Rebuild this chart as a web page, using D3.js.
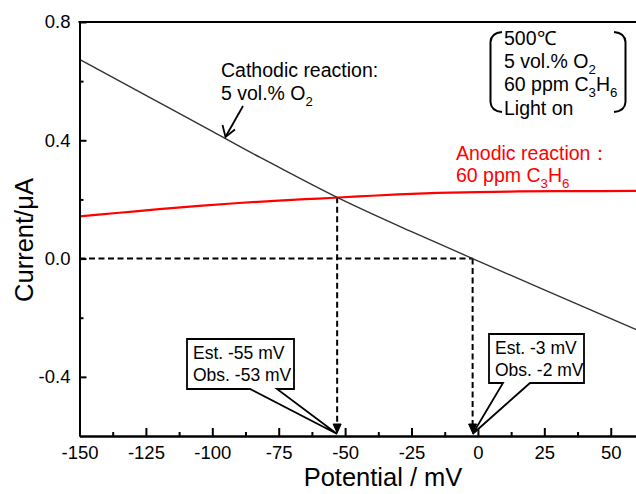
<!DOCTYPE html>
<html>
<head>
<meta charset="utf-8">
<script src="https://cdn.jsdelivr.net/npm/d3@7"></script>
<style>
  html, body { margin: 0; padding: 0; background: #fff; }
  svg { display: block; font-family: "Liberation Sans", Arial, sans-serif; }
</style>
</head>
<body>
<svg id="chart" width="636" height="494"></svg>
<script>
// Linear sweep: cathodic (O2 reduction) and anodic (C3H6 oxidation) currents
const cathodicPotential = [-150, -125, -100, -82, -75, -53, -25, -2, 25, 60];
const cathodicCurrent   = [0.674, 0.552, 0.430, 0.342, 0.309, 0.207, 0.091, 0.000, -0.106, -0.242];

const anodicPotential = [-150, -135, -120, -105, -90, -75, -60, -45, -30, -15, 0, 15, 30, 45, 60];
const anodicCurrent   = [0.143, 0.155, 0.167, 0.178, 0.188, 0.196, 0.203, 0.210, 0.217, 0.222, 0.225, 0.227, 0.228, 0.228, 0.229];

const xMajorTicks = [-150, -125, -100, -75, -50, -25, 0, 25, 50];
const xMinorTicks = [-137.5, -112.5, -87.5, -62.5, -37.5, -12.5, 12.5, 37.5];
const yMajorTicks = [-0.4, 0.0, 0.4, 0.8];
const yMinorTicks = [-0.2, 0.2, 0.6];

// Mixed potentials: estimated vs observed (mV)
const mixedPoints = [
  { est: -55, obs: -53, current: 0.207 },
  { est: -3,  obs: -2,  current: 0.0 }
];

const conditions = ["500℃", ["5 vol.% O", "2"], ["60 ppm C", "3", "H", "6"], "Light on"];

const svg = d3.select("#chart");
const plotLeft = 79.5, plotRight = 637.3, plotTop = 22, plotBottom = 436;

const x = d3.scaleLinear().domain([-150, 60]).range([plotLeft, plotRight]);
const y = d3.scaleLinear().domain([-0.6, 0.8]).range([plotBottom, plotTop]);

// Tick labels use a plain hyphen for negatives
const hyphen = f => d => f(d).replace("\u2212", "-");

svg.append("defs").append("clipPath").attr("id", "plotclip")
  .append("rect").attr("x", plotLeft).attr("y", plotTop)
  .attr("width", plotRight - plotLeft).attr("height", plotBottom - plotTop);

// Dashed guide lines (zero current, and verticals at mixed potentials)
const guides = svg.append("g").attr("stroke", "#000").attr("stroke-width", 2)
  .attr("stroke-dasharray", "6,3.5").attr("fill", "none");
guides.append("line")
  .attr("x1", x(-150)).attr("x2", x(mixedPoints[1].obs))
  .attr("y1", y(0)).attr("y2", y(0));
mixedPoints.forEach(p => {
  guides.append("line")
    .attr("x1", x(p.obs)).attr("x2", x(p.obs))
    .attr("y1", y(p.current)).attr("y2", plotBottom - 8);
});
// Arrowheads on the vertical guides
mixedPoints.forEach(p => {
  const tx = x(p.obs), ty = plotBottom - 3;
  svg.append("path")
    .attr("d", `M${tx - 4},${ty - 9} L${tx},${ty} L${tx + 4},${ty - 9} Z`)
    .attr("fill", "#000").attr("stroke", "#000").attr("stroke-width", 1);
});

// Curves
const line = d3.line().x(d => x(d[0])).y(d => y(d[1])).curve(d3.curveMonotoneX);
const plot = svg.append("g").attr("clip-path", "url(#plotclip)");
plot.append("path")
  .datum(anodicPotential.map((v, i) => [v, anodicCurrent[i]]))
  .attr("d", line).attr("fill", "none").attr("stroke", "#ff0000").attr("stroke-width", 2.2);
plot.append("path")
  .datum(cathodicPotential.map((v, i) => [v, cathodicCurrent[i]]))
  .attr("d", line).attr("fill", "none").attr("stroke", "#333").attr("stroke-width", 1.4);

// Axes
const axisStyle = g => {
  g.select(".domain").attr("stroke", "#000").attr("stroke-width", 2);
  g.selectAll(".tick line").attr("stroke", "#000").attr("stroke-width", 2);
  g.selectAll(".tick text").attr("font-size", 18.5).attr("fill", "#000")
    .attr("font-family", "'Liberation Sans', Arial, sans-serif");
};

svg.append("g").attr("transform", `translate(0,${plotBottom})`)
  .call(d3.axisBottom(x).tickValues(xMinorTicks).tickSize(-4).tickSizeOuter(0).tickFormat(""))
  .call(axisStyle);
svg.append("g").attr("transform", `translate(0,${plotBottom})`)
  .call(d3.axisBottom(x).tickValues(xMajorTicks).tickSize(-8).tickSizeOuter(0).tickPadding(10)
    .tickFormat(hyphen(d3.format("d"))))
  .call(axisStyle);

svg.append("g").attr("transform", `translate(${plotLeft},0)`)
  .call(d3.axisLeft(y).tickValues(yMinorTicks).tickSize(-4).tickSizeOuter(0).tickFormat(""))
  .call(axisStyle);
svg.append("g").attr("transform", `translate(${plotLeft},0)`)
  .call(d3.axisLeft(y).tickValues(yMajorTicks).tickSize(-7).tickSizeOuter(0).tickPadding(9)
    .tickFormat(hyphen(d3.format(".1f"))))
  .call(axisStyle);

// Top frame line
svg.append("line").attr("x1", plotLeft - 1).attr("x2", 636).attr("y1", plotTop).attr("y2", plotTop)
  .attr("stroke", "#000").attr("stroke-width", 2);

// Axis titles
svg.append("text").attr("x", 383).attr("y", 486).attr("text-anchor", "middle")
  .attr("font-size", 25.5).attr("fill", "#000").text("Potential / mV");
svg.append("text").attr("transform", "translate(33,240) rotate(-90)").attr("text-anchor", "middle")
  .attr("font-size", 25.5).attr("fill", "#000").text("Current/μA");

// Text with subscripts: parts alternate normal / subscript
function richText(sel, parts, size) {
  parts.forEach((p, i) => {
    const sub = i % 2 === 1;
    sel.append("tspan").text(p)
      .attr("font-size", sub ? size * 0.68 : size)
      .attr("dy", i === 0 ? 0 : (sub ? size * 0.3 : -size * 0.3));
  });
}

// Cathodic label and arrow
const cat = svg.append("g").attr("fill", "#000");
cat.append("text").attr("x", 221).attr("y", 77).attr("font-size", 19.5).text("Cathodic reaction:");
richText(cat.append("text").attr("x", 221).attr("y", 100), ["5 vol.% O", "2"], 19.5);
svg.append("line").attr("x1", 243).attr("y1", 106).attr("x2", 226).attr("y2", 136)
  .attr("stroke", "#000").attr("stroke-width", 1.8);
svg.append("path").attr("d", "M222.5,125 L225.5,137 L235,129.5")
  .attr("fill", "none").attr("stroke", "#000").attr("stroke-width", 1.8);

// Anodic label
const an = svg.append("g").attr("fill", "#ff0000");
an.append("text").attr("x", 456).attr("y", 160).attr("font-size", 19.5).text("Anodic reaction：");
richText(an.append("text").attr("x", 456).attr("y", 182), ["60 ppm C", "3", "H", "6"], 19.5);

// Experimental conditions with brackets
const cond = svg.append("g").attr("fill", "#000");
conditions.forEach((c, i) => {
  const t = cond.append("text").attr("x", 504).attr("y", 45 + i * 23.2);
  if (Array.isArray(c)) richText(t, c, 19.5); else t.attr("font-size", 19.5).text(c);
});
svg.append("path").attr("d", "M502,32 Q491,33 490.5,42 L490.5,102 Q491,111 502,112")
  .attr("fill", "none").attr("stroke", "#000").attr("stroke-width", 2);
svg.append("path").attr("d", "M614,32 Q625,33 625.5,42 L625.5,102 Q625,111 614,112")
  .attr("fill", "none").attr("stroke", "#000").attr("stroke-width", 2);

// Callout boxes pointing at the mixed potentials
const callouts = [
  { box: [187, 339, 294, 389], base: [250, 277], p: mixedPoints[0] },
  { box: [489, 334, 584, 383], base: [503, 530], p: mixedPoints[1] }
];
callouts.forEach(c => {
  const [x0, y0, x1, y1] = c.box;
  const tx = x(c.p.obs), ty = plotBottom - 2;
  const path = `M${x0},${y0} L${x1},${y0} L${x1},${y1} L${c.base[1]},${y1} L${tx},${ty} L${c.base[0]},${y1} L${x0},${y1} Z`;
  svg.append("path").attr("d", path).attr("fill", "#fff").attr("stroke", "#000")
    .attr("stroke-width", 1.8).attr("stroke-linejoin", "miter");
  svg.append("text").attr("x", x0 + 6).attr("y", y0 + 20).attr("font-size", 17.5).attr("fill", "#000")
    .text(`Est. ${c.p.est} mV`);
  svg.append("text").attr("x", x0 + 6).attr("y", y0 + 42).attr("font-size", 17.5).attr("fill", "#000")
    .text(`Obs. ${c.p.obs} mV`);
});
</script>
</body>
</html>
